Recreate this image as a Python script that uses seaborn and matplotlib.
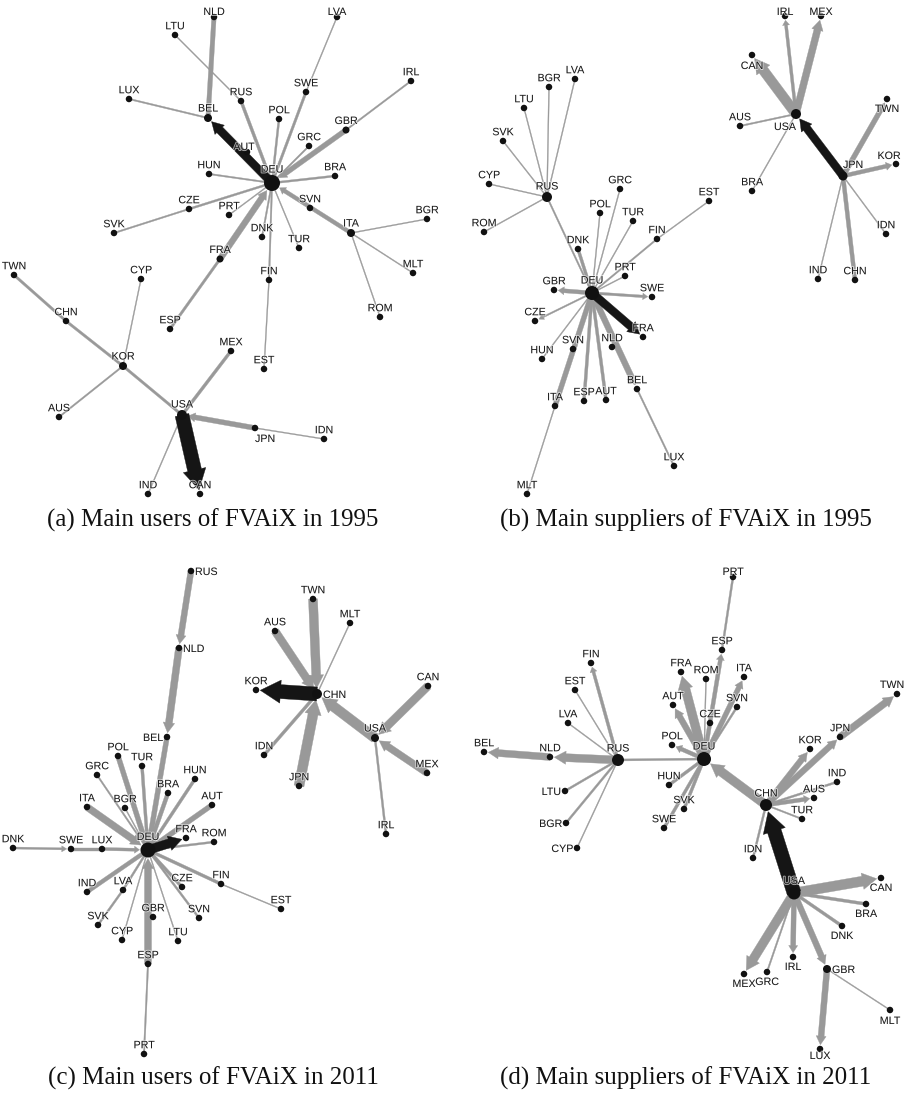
import numpy as np
import pandas as pd
import matplotlib
matplotlib.use("Agg")
import matplotlib.pyplot as plt
import matplotlib.patheffects as pe
from matplotlib.patches import Polygon
import seaborn as sns

sns.set_theme(style="white")
plt.rcParams['font.family'] = ['Liberation Sans', 'DejaVu Sans']

# ---------------- Panel (a): main users of FVAiX in 1995 ----------------
a_names = ["NLD","LTU","LVA","LUX","BEL","RUS","SWE","IRL","POL","GBR","GRC","AUT","DEU","HUN","BRA",
           "CZE","PRT","SVN","BGR","SVK","ITA","DNK","TUR","FRA","TWN","CYP","FIN","MLT","ROM","CHN",
           "ESP","MEX","EST","KOR","AUS","USA","JPN","IDN","IND","CAN"]
a_x = [214,175,337,129,208,241,306,411,279,346,309,247,272,209,335,189,229,310,427,114,351,262,299,220,
       14,141,269,413,380,66,170,231,264,123,59,182,255,324,148,200]
a_y = [17,35,17,99,118,101,92,81,119,130,146,152,183,174,176,209,215,208,219,233,233,237,248,259,
       275,279,280,273,317,321,329,351,369,366,417,415,428,439,494,494]
a_hub = {"DEU":16,"USA":10,"KOR":8,"ITA":8,"BEL":8,"FRA":7,"GBR":7}
a_src = ["DEU","BEL","BEL","RUS","DEU","DEU","SWE","DEU","GBR","GBR","DEU","DEU","DEU","DEU","CZE","DEU",
         "ITA","ITA","ITA","ITA","DEU","DEU","DEU","FIN","FRA","FRA","CHN","KOR","KOR","KOR","USA","USA",
         "JPN","JPN","USA","USA"]
a_dst = ["BEL","NLD","LUX","LTU","RUS","SWE","LVA","POL","DEU","IRL","GRC","HUN","BRA","CZE","SVK","PRT",
         "DEU","BGR","MLT","ROM","DNK","TUR","FIN","EST","DEU","ESP","TWN","CHN","CYP","AUS","KOR","MEX",
         "USA","IDN","IND","CAN"]
a_val = [8,4.5,1.5,1,3,2.5,1,2,5,1.5,1.5,1.5,2,2,1.5,1,4,1,1,1,1.5,1,1.5,1,6,2.5,2.5,2.5,1,1.5,2.5,3,5,1,1,14]
a_kind = ["dark","line","line","line","line","line","line","line","arrow","line","line","line","line","line",
          "line","line","arrow","line","line","line","line","line","line","line","arrow","line","line","line",
          "line","line","line","line","arrow","line","line","dark"]
a_lab = {"JPN":(10,10,"center"),"NLD":(0,-6,"center"),"LVA":(0,-6,"center"),"AUT":(-3,-6,"center")}

# ---------------- Panel (b): main suppliers of FVAiX in 1995 ----------------
b_names = ["IRL","MEX","CAN","LVA","BGR","LTU","SVK","TWN","AUS","USA","KOR","JPN","BRA","CYP","RUS","GRC",
           "EST","POL","TUR","ROM","IDN","FIN","DNK","PRT","IND","CHN","GBR","DEU","SWE","CZE","FRA","NLD",
           "SVN","HUN","BEL","ITA","ESP","AUT","LUX","MLT"]
b_x = [785,821,752,575,549,524,503,887,740,796,896,843,752,489,547,620,709,600,633,484,886,657,578,625,818,
       855,554,592,652,535,643,612,573,542,637,555,584,606,674,527]
b_y = [16,16,55,79,87,108,141,99,126,114,164,176,191,184,197,189,201,213,221,232,234,239,249,276,279,280,
       290,293,297,321,337,347,349,359,389,406,401,400,466,494]
b_hub = {"DEU":14,"RUS":10,"USA":10,"JPN":9}
b_src = ["USA","USA","USA","USA","USA","JPN","JPN","JPN","JPN","JPN","JPN","RUS","RUS","RUS","RUS","RUS",
         "RUS","RUS","DEU","DEU","DEU","DEU","DEU","FIN","DEU","DEU","DEU","DEU","DEU","DEU","DEU","ITA",
         "DEU","DEU","DEU","BEL"]
b_dst = ["IRL","MEX","CAN","AUS","BRA","USA","TWN","KOR","IDN","IND","CHN","LVA","BGR","LTU","SVK","CYP",
         "ROM","DEU","DNK","GRC","POL","TUR","FIN","EST","PRT","GBR","SWE","CZE","FRA","HUN","ITA","MLT",
         "ESP","AUT","BEL","LUX"]
b_val = [3,7,10,1.5,1,8,5,4,1,1,4,1,1,1,1,1,1,1.5,3,1,1,1,1.5,1,1,4,2.5,1.5,8,1,5,1,3,3,6,1.5]
b_kind = ["arrow","arrow","arrow","line","line","dark","arrow","arrow","line","line","line","line","line",
          "line","line","line","line","line","line","line","line","line","line","line","line","arrow","arrow",
          "arrow","dark","line","line","line","line","line","arrow","line"]
b_lab = {"USA":(-11,12,"center"),"CAN":(0,10,"center"),"JPN":(10,-12,"center"),"TWN":(0,9,"center"),
         "KOR":(-7,-9,"center"),"IRL":(0,-5,"center"),"MEX":(0,-5,"center")}

# ---------------- Panel (c): main users of FVAiX in 2011 ----------------
c_names = ["RUS","NLD","TWN","MLT","AUS","CAN","KOR","CHN","USA","BEL","IDN","POL","TUR","MEX","GRC","HUN",
           "JPN","BRA","ITA","BGR","AUT","IRL","FRA","ROM","DNK","SWE","LUX","DEU","FIN","IND","LVA","CZE",
           "EST","SVK","GBR","SVN","CYP","LTU","ESP","PRT"]
c_x = [191,179,313,350,275,428,256,317,375,167,264,118,142,427,97,195,299,168,87,125,212,386,186,214,13,71,
       102,148,221,87,123,182,281,98,153,199,122,178,148,144]
c_y = [571,648,599,623,631,686,690,694,738,737,755,756,766,773,775,779,786,793,807,808,805,834,838,842,848,
       849,849,850,884,892,890,887,909,925,917,918,940,941,964,1054]
c_hub = {"DEU":15,"CHN":10,"USA":8}
c_src = ["RUS","NLD","BEL","POL","TUR","GRC","HUN","BRA","ITA","BGR","AUT","DEU","ROM","DNK","SWE","LUX",
         "IND","LVA","SVK","CYP","ESP","PRT","LTU","SVN","CZE","FIN","EST","CHN","AUS","TWN","MLT","IDN",
         "JPN","USA","CAN","MEX","IRL"]
c_dst = ["NLD","BEL","DEU","DEU","DEU","DEU","DEU","DEU","DEU","DEU","DEU","FRA","DEU","SWE","LUX","DEU",
         "DEU","DEU","LVA","DEU","DEU","ESP","DEU","DEU","DEU","DEU","FIN","KOR","CHN","CHN","CHN","CHN",
         "CHN","CHN","USA","USA","USA"]
c_val = [6,7,5,5,3,1.5,3,4,7,1,5,9,2,2,3,3,4,2,2,1,7,1.5,1,2,3,3,1,14,8,9,1,3,10,10,8,7,2]
c_kind = ["arrow","arrow","line","line","line","line","line","line","arrow","line","line","dark","line",
          "arrow","line","arrow","line","line","line","line","arrow","line","line","line","line","line",
          "line","dark","arrow","arrow","line","line","arrow","arrow","arrow","arrow","line"]
c_lab = {"RUS":(4,0,"left"),"NLD":(4,0,"left"),"BEL":(-4,0,"right"),"CHN":(6,0,"left")}

# ---------------- Panel (d): main suppliers of FVAiX in 2011 ----------------
d_names = ["PRT","ESP","FIN","FRA","ROM","ITA","EST","TWN","AUT","SVN","CZE","LVA","JPN","POL","KOR","BEL",
           "NLD","RUS","DEU","IND","HUN","LTU","AUS","CHN","SVK","TUR","BGR","SWE","CYP","IDN","CAN","USA",
           "BRA","DNK","IRL","GBR","MEX","GRC","MLT","LUX"]
d_x = [733,722,591,681,706,744,575,897,673,737,710,568,840,672,810,484,550,618,704,837,669,565,814,766,684,
       802,566,664,577,753,881,794,866,842,793,827,744,767,890,820]
d_y = [577,650,663,672,679,677,690,694,705,707,723,723,737,745,749,752,757,760,759,782,785,791,798,805,809,
       819,823,828,848,858,878,893,904,926,957,969,974,972,1010,1049]
d_hub = {"DEU":14,"RUS":12,"CHN":12,"USA":13,"GBR":8}
d_src = ["ESP","DEU","DEU","DEU","DEU","DEU","DEU","DEU","DEU","DEU","DEU","DEU","RUS","RUS","NLD","RUS",
         "RUS","RUS","RUS","RUS","RUS","CHN","CHN","CHN","JPN","CHN","CHN","CHN","CHN","USA","USA","USA",
         "USA","USA","USA","USA","USA","GBR","GBR"]
d_dst = ["PRT","ESP","FRA","ROM","ITA","AUT","SVN","CZE","POL","HUN","SVK","SWE","DEU","NLD","BEL","FIN",
         "EST","LVA","LTU","BGR","CYP","DEU","KOR","JPN","TWN","AUS","IND","TUR","IDN","CHN","CAN","BRA",
         "DNK","IRL","MEX","GRC","GBR","LUX","MLT"]
d_val = [2,4,9,1,5,6,2,2,4,3,3,3,2,8,7,3,1,1,2,2,1,9,6,6,7,4,2,1.5,2,14,10,3,3,5,9,1.5,6,6,1]
d_kind = ["line","arrow","arrow","line","arrow","arrow","line","line","arrow","line","line","line","line",
          "arrow","arrow","arrow","line","line","line","line","line","arrow","arrow","arrow","arrow","arrow",
          "line","line","line","dark","arrow","line","line","arrow","arrow","line","arrow","arrow","line"]
d_lab = {"LTU":(-4,0,"right"),"BGR":(-4,0,"right"),"CYP":(-4,0,"right"),"GBR":(5,0,"left"),
         "CAN":(0,9,"center"),"BRA":(0,9,"center"),"DNK":(0,9,"center"),"IRL":(0,9,"center"),
         "MEX":(0,9,"center"),"GRC":(0,9,"center"),"MLT":(0,10,"center"),"LUX":(0,6,"center"),
         "PRT":(0,-6,"center"),"TWN":(-5,-10,"center")}

captions = ["(a) Main users of FVAiX in 1995", "(b) Main suppliers of FVAiX in 1995",
            "(c) Main users of FVAiX in 2011", "(d) Main suppliers of FVAiX in 2011"]

panels = [
    (a_names, a_x, a_y, a_hub, a_src, a_dst, a_val, a_kind, a_lab),
    (b_names, b_x, b_y, b_hub, b_src, b_dst, b_val, b_kind, b_lab),
    (c_names, c_x, c_y, c_hub, c_src, c_dst, c_val, c_kind, c_lab),
    (d_names, d_x, d_y, d_hub, d_src, d_dst, d_val, d_kind, d_lab),
]

W, H = 906, 1096
bounds = [(0, 453, 0, 548), (453, 906, 0, 548), (0, 453, 548, 1096), (453, 906, 548, 1096)]
cap_pos = [(213, 520), (686, 520), (213, 1078), (686, 1078)]

GRAY = "#999999"
DARK = "#151515"
NODE = "#111111"

fig = plt.figure(figsize=(W / 100, H / 100), dpi=100)


def edge_polygon(p0, p1, w, head, r_end):
    p0 = np.asarray(p0, float)
    p1 = np.asarray(p1, float)
    d = p1 - p0
    L = np.hypot(*d)
    u = d / L
    n = np.array([-u[1], u[0]])
    if not head:
        return [p0 + n * w / 2, p1 + n * w / 2, p1 - n * w / 2, p0 - n * w / 2]
    tip = p1 - u * (r_end + 1)
    hl = max(1.45 * w, 5.0)
    hw = max(1.65 * w, w + 4.0)
    base = tip - u * hl
    return [p0 + n * w / 2, base + n * w / 2, base + n * hw / 2, tip,
            base - n * hw / 2, base - n * w / 2, p0 - n * w / 2]


for (names, xs, ys, hub, src, dst, val, kind, lab), (x0, x1, y0, y1), cap, cp in zip(
        panels, bounds, captions, cap_pos):
    assert len(names) == len(xs) == len(ys)
    assert len(src) == len(dst) == len(val) == len(kind)
    ax = fig.add_axes([x0 / W, 1 - y1 / H, (x1 - x0) / W, (y1 - y0) / H])
    nodes = pd.DataFrame({"name": names, "x": xs, "y": ys})
    nodes["diam"] = [hub.get(n, 6.5) for n in names]
    pos = {r.name: (r.x, r.y) for r in nodes.itertuples()}
    rad = {r.name: r.diam / 2 for r in nodes.itertuples()}

    edges = pd.DataFrame({"src": src, "dst": dst, "w": val, "kind": kind})
    edges["order"] = (edges["kind"] == "dark").astype(int)
    for e in edges.sort_values(["order", "w"]).itertuples():
        col = DARK if e.kind == "dark" else GRAY
        pts = edge_polygon(pos[e.src], pos[e.dst], e.w, e.kind != "line", rad[e.dst])
        ax.add_patch(Polygon(pts, closed=True, facecolor=col, edgecolor=col,
                             linewidth=0.25, joinstyle="miter", zorder=2 + e.order))

    sns.scatterplot(data=nodes, x="x", y="y", s=(nodes["diam"] * 0.72) ** 2,
                    color=NODE, edgecolor="none", linewidth=0, legend=False, ax=ax, zorder=5)

    for r in nodes.itertuples():
        dx, dy, ha = lab.get(r.name, (0, -(r.diam / 2 + 6.5), "center"))
        ax.text(r.x + dx, r.y + dy, r.name, fontsize=7.7, color="#1c1c1c", ha=ha,
                va="center_baseline", zorder=6,
                path_effects=[pe.withStroke(linewidth=1.4, foreground="white", alpha=0.6)])

    ax.text(cp[0], cp[1], cap, fontsize=18, family=["Liberation Serif", "DejaVu Serif"],
            ha="center", va="center", color="#111111")

    ax.set_xlim(x0, x1)
    ax.set_ylim(y1, y0)
    ax.set_axis_off()

fig.savefig("out.png", dpi=100)
